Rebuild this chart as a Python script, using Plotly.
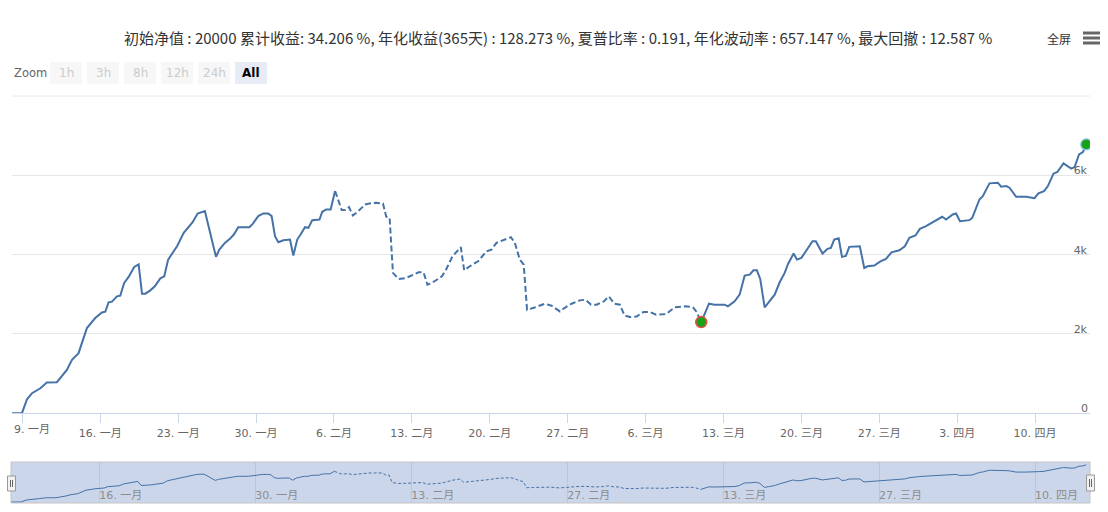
import pandas as pd
import plotly.graph_objects as go

W, H = 1108, 512

# ---------------- data ----------------
start_date = "2019-01-09"
day_offsets = [
    -0.93, -0.03, 0.42, 0.87, 1.62, 2.2, 3.1, 4.0, 4.46, 5.05, 5.8, 6.55, 7.15, 7.45, 7.75, 8.05,
    8.5, 8.8, 9.15, 9.55, 10.05, 10.45, 10.75, 11.05, 11.5, 11.9, 12.4, 12.75, 13.1, 13.6, 13.9,
    14.5, 14.95, 15.3, 15.75, 16.4, 17.4, 17.7, 18.2, 18.65, 19.0, 19.4, 20.4, 20.7, 21.2, 21.65,
    22.1, 22.4, 22.7, 23.0, 23.45, 24.05, 24.35, 24.7, 25.0, 25.4, 25.7, 26.05, 26.7, 26.95, 27.3,
    27.7, 28.1,
    28.7, 29.0, 29.35, 29.7, 30.1, 30.8, 31.2, 31.8, 32.4, 32.7, 33.0, 33.3, 33.8, 34.4, 35.1,
    35.6, 36.05, 36.4, 36.8, 37.7, 38.1, 38.65, 39.4, 39.7, 40.2, 40.95, 41.7, 42.15, 42.6, 43.2,
    43.9, 44.25, 44.7, 45.05, 45.35, 45.9, 46.95, 47.55, 48.3, 48.7, 49.35, 50.1, 50.6, 51.1,
    51.6, 52.25, 52.7, 53.2, 53.7, 54.1, 54.6, 55.2, 55.8, 56.4, 56.95, 57.85, 58.6, 59.5, 60.25,
    60.55, 61.0,
    61.7, 62.2, 63.1, 63.4, 64.0, 64.45, 64.9, 65.35, 65.7, 66.0, 66.3, 66.7, 67.15, 67.6, 68.05,
    68.5, 68.8, 69.3, 69.6, 70.0, 71.0, 71.3, 71.9, 72.35, 72.65, 72.95, 73.35, 73.65, 74.0, 74.3,
    75.25, 75.65, 75.95, 76.55, 77.1, 77.6, 78.1, 78.8, 79.3, 79.7, 80.25, 80.65, 81.2, 81.8,
    82.65, 83.0, 83.6, 83.9, 84.25, 85.1, 85.35, 86.0, 86.3, 86.9, 87.65, 87.95, 88.4, 88.7,
    89.3, 90.2, 90.95, 91.3, 91.8, 92.15, 92.65, 93.0, 93.55, 94.25, 94.55, 94.95, 95.3, 95.6,
]
net_profit = [
    0, 10, 354, 506, 632, 774, 784, 1095, 1347, 1517, 2149, 2402, 2544, 2561, 2797, 2814,
    2949, 2966, 3286, 3438, 3691, 3757, 3016, 3016, 3100, 3201, 3403, 3453, 3875, 4085, 4212,
    4550, 4693, 4819, 5038, 5097, 3944, 4128, 4297, 4399, 4507, 4693, 4693, 4777, 4971, 5038,
    5038, 4971, 4465, 4314, 4364, 4381, 3977, 4381, 4507, 4693, 4676, 4870, 4887, 5081, 5140,
    5140, 5602,
    5123, 5123, 5198, 4988, 5072, 5266, 5291, 5308, 5291, 4955, 4929, 3539, 3388, 3403, 3496,
    3554, 3554, 3243, 3286, 3453, 3640, 3959, 4187, 3605, 3706, 3832, 4085, 4128, 4297, 4364,
    4440, 4297, 3875, 3749, 2611, 2654, 2763, 2712, 2569, 2654, 2763, 2847, 2864, 2738,
    2738, 2822, 2949, 2763, 2738, 2468, 2426, 2443, 2552, 2552, 2485, 2502, 2670, 2696, 2679,
    2569, 2300,
    2763, 2738, 2738, 2696, 2822, 2991, 3471, 3496, 3605, 3605, 3388, 2670, 2822, 2991, 3303,
    3539, 3766, 4027, 3875, 3918, 4338, 4338, 4027, 4146, 4170, 4381, 4414, 3944, 3968, 4196,
    4212, 3665, 3706, 3724, 3832, 3893, 4060, 4111, 4212, 4424, 4482, 4651, 4718, 4819,
    4955, 4887, 5013, 5038, 4844, 4870, 4929, 5392, 5476, 5797, 5814, 5713, 5729, 5688,
    5460, 5460, 5425, 5544, 5602, 5729, 6042, 6083, 6302, 6168, 6209, 6530, 6588, 6780,
]
dash_from_day = 28.1
dash_to_day = 61.0

main_tick_dates = ["2019-01-09", "2019-01-16", "2019-01-23", "2019-01-30", "2019-02-06",
                   "2019-02-13", "2019-02-20", "2019-02-27", "2019-03-06", "2019-03-13",
                   "2019-03-20", "2019-03-27", "2019-04-03", "2019-04-10"]
main_tick_labels = ["9. 一月", "16. 一月", "23. 一月", "30. 一月", "6. 二月", "13. 二月",
                    "20. 二月", "27. 二月", "6. 三月", "13. 三月", "20. 三月", "27. 三月",
                    "3. 四月", "10. 四月"]
nav_tick_dates = ["2019-01-16", "2019-01-30", "2019-02-13", "2019-02-27", "2019-03-13",
                  "2019-03-27", "2019-04-10"]
nav_tick_labels = ["16. 一月", "30. 一月", "13. 二月", "27. 二月", "13. 三月", "27. 三月", "10. 四月"]
y_tick_vals = [0, 2000, 4000, 6000, 8000]
y_tick_labels = ["0", "2k", "4k", "6k", ""]
zoom_buttons = ["1h", "3h", "8h", "12h", "24h", "All"]
selected_button = "All"
title_text = ("初始净值 : 20000 累计收益: 34.206 %, 年化收益(365天) : 128.273 %, "
              "夏普比率 : 0.191, 年化波动率 : 657.147 %, 最大回撤 : 12.587 %")

# ---------------- build ----------------
df = pd.DataFrame({"d": day_offsets, "v": net_profit})
df["t"] = pd.Timestamp(start_date) + pd.to_timedelta(df["d"], unit="D")
seg1 = df[df["d"] <= dash_from_day]
seg2 = df[(df["d"] >= dash_from_day) & (df["d"] <= dash_to_day)]
seg3 = df[df["d"] >= dash_to_day]
# deepest point of the max drawdown
drawdown = df["v"].cummax() - df["v"]
imin = drawdown.idxmax()

LINE = "#4572A7"
FONT = "DejaVu Sans, Noto Sans CJK SC, sans-serif"
CJK = "Noto Sans CJK SC, sans-serif"


def px(x):
    return x / W


def py(y):
    return 1 - y / H


fig = go.Figure()
for seg, dash in ((seg1, "solid"), (seg2, "6px,3px"), (seg3, "solid")):
    fig.add_trace(go.Scatter(x=seg["t"], y=seg["v"], mode="lines",
                             line=dict(color=LINE, width=2, dash=dash),
                             xaxis="x", yaxis="y", showlegend=False, hoverinfo="skip"))
    fig.add_trace(go.Scatter(x=seg["t"], y=seg["v"], mode="lines",
                             line=dict(color=LINE, width=1,
                                       dash="solid" if dash == "solid" else "3px,2px"),
                             xaxis="x2", yaxis="y2", showlegend=False, hoverinfo="skip"))

fig.add_trace(go.Scatter(x=[df["t"][imin]], y=[df["v"][imin]], mode="markers",
                         marker=dict(size=11, color="#17a317", line=dict(color="#f04a4a", width=1.5)),
                         showlegend=False, hoverinfo="skip"))
fig.add_trace(go.Scatter(x=[df["t"].iloc[-1]], y=[df["v"].iloc[-1]], mode="markers",
                         marker=dict(size=11, color="#17a317", line=dict(color="#8cc4f0", width=1.2)),
                         showlegend=False, hoverinfo="skip"))

x_range = [df["t"].iloc[0], df["t"].iloc[-1] + pd.Timedelta(hours=8)]

shapes = []
annotations = []

# top grid line (kept visible explicitly)
shapes.append(dict(type="line", xref="x domain", x0=0, x1=1, yref="y",
                   y0=y_tick_vals[-1], y1=y_tick_vals[-1],
                   line=dict(color="#e6e6e6", width=1), layer="below"))

# navigator background + outline
shapes.append(dict(type="rect", xref="paper", yref="paper", x0=px(11), x1=px(1090),
                   y0=py(503), y1=py(462), fillcolor="#ccd6ea", line=dict(width=0), layer="below"))
shapes.append(dict(type="rect", xref="paper", yref="paper", x0=px(11), x1=px(1090),
                   y0=py(503), y1=py(462), fillcolor="rgba(0,0,0,0)",
                   line=dict(color="#c4c4c4", width=1), layer="above"))
# navigator handles
for hx0, hy0, hy1 in ((7.5, 476, 491), (1086.5, 475, 491)):
    shapes.append(dict(type="rect", xref="paper", yref="paper", x0=px(hx0), x1=px(hx0 + 8),
                       y0=py(hy1), y1=py(hy0), fillcolor="#f2f2f2",
                       line=dict(color="#999999", width=1), layer="above"))
    for lx in (hx0 + 3, hx0 + 5):
        shapes.append(dict(type="line", xref="paper", yref="paper", x0=px(lx), x1=px(lx),
                           y0=py(hy1 - 4), y1=py(hy0 + 4), line=dict(color="#666666", width=1),
                           layer="above"))

# zoom buttons
annotations.append(dict(text="Zoom", x=px(12), y=py(73), xref="paper", yref="paper",
                        xanchor="left", yanchor="middle", showarrow=False,
                        font=dict(family=FONT, size=11.5, color="#666666")))
for i, lab in enumerate(zoom_buttons):
    bx = 50 + 37 * i
    sel = lab == selected_button
    shapes.append(dict(type="rect", xref="paper", yref="paper", x0=px(bx), x1=px(bx + 32),
                       y0=py(84), y1=py(62), fillcolor="#e6ebf5" if sel else "#f7f7f7",
                       line=dict(width=0), layer="above"))
    annotations.append(dict(text="<b>%s</b>" % lab if sel else lab, x=px(bx + 16), y=py(73),
                            xref="paper", yref="paper", xanchor="center", yanchor="middle",
                            showarrow=False,
                            font=dict(family=FONT, size=12, color="#000000" if sel else "#cccccc")))

# title
annotations.append(dict(text=title_text, x=px(558), y=py(37), xref="paper", yref="paper",
                        xanchor="center", yanchor="middle", showarrow=False,
                        font=dict(family=CJK, size=15, color="#333333")))
# 全屏 + menu icon
annotations.append(dict(text="全屏", x=px(1059), y=py(38), xref="paper", yref="paper",
                        xanchor="center", yanchor="middle", showarrow=False,
                        font=dict(family=CJK, size=12, color="#333333")))
for by in (33, 38, 43):
    shapes.append(dict(type="rect", xref="paper", yref="paper", x0=px(1083), x1=px(1100),
                       y0=py(by + 1.5), y1=py(by - 1.5), fillcolor="#666666",
                       line=dict(width=0), layer="above"))

# first x label is justified inside the plot (as Highcharts does)
annotations.append(dict(text=main_tick_labels[0], x=px(12), y=py(429), xref="paper", yref="paper",
                        xanchor="left", yanchor="middle", showarrow=False,
                        font=dict(family=FONT, size=11, color="#666666")))
main_tick_text = [""] + main_tick_labels[1:]
# bottom y label sits right above the axis line
annotations.append(dict(text=y_tick_labels[0], x=px(1090), y=py(408), xref="paper", yref="paper",
                        xanchor="right", yanchor="middle", showarrow=False,
                        font=dict(family=FONT, size=11, color="#666666")))
y_tick_text = [""] + y_tick_labels[1:]

y_top = 8020
y_dom_top = 413.3 - (413.3 - 96) * y_top / 8000

fig.update_layout(
    width=W, height=H, autosize=False,
    margin=dict(l=0, r=0, t=0, b=0, autoexpand=False),
    paper_bgcolor="white", plot_bgcolor="white",
    shapes=shapes, annotations=annotations,
    xaxis=dict(domain=[px(12), px(1090)], range=x_range, anchor="y", automargin=False,
               tickvals=pd.to_datetime(main_tick_dates), ticktext=main_tick_text,
               ticks="outside", ticklen=9, tickcolor="#ccd6eb", tickwidth=1,
               showline=True, linecolor="#ccd6eb", linewidth=1,
               showgrid=False, zeroline=False,
               tickfont=dict(family=FONT, size=11, color="#666666")),
    yaxis=dict(domain=[py(413.3), py(y_dom_top)], range=[0, y_top], anchor="x", side="right",
               automargin=False,
               tickvals=y_tick_vals, ticktext=y_tick_text,
               ticklabelposition="inside top", ticks="", ticklabelshift=3,
               showgrid=True, gridcolor="#e6e6e6", gridwidth=1, zeroline=False,
               showline=False,
               tickfont=dict(family=FONT, size=11, color="#666666")),
    xaxis2=dict(domain=[px(11), px(1090)], range=x_range, anchor="y2", automargin=False,
                tickvals=pd.to_datetime(nav_tick_dates), ticktext=nav_tick_labels,
                ticklabelposition="inside right", ticks="", ticklabelstandoff=-4,
                showgrid=True, gridcolor="#bcc6da", gridwidth=1, zeroline=False,
                showline=False,
                tickfont=dict(family=FONT, size=11, color="#8c8c8c")),
    yaxis2=dict(domain=[py(503), py(462)], range=[-180, 7300], anchor="x2", automargin=False,
                showgrid=False, showticklabels=False, zeroline=False, ticks=""),
)

fig.write_html("out.html", config={"displayModeBar": False})
